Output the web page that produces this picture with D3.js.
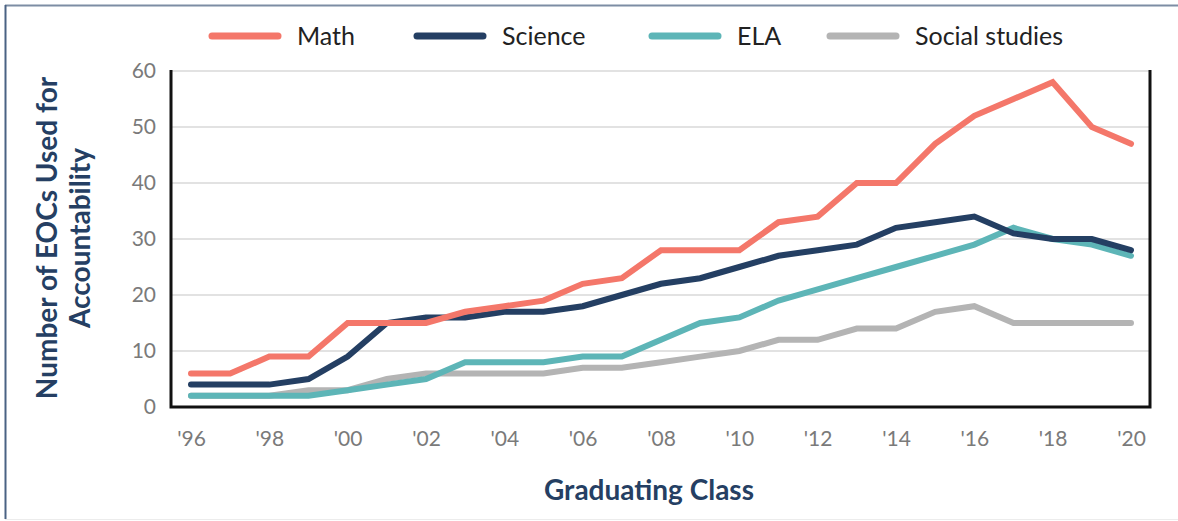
<!DOCTYPE html>
<html><head><meta charset="utf-8">
<script src="https://cdn.jsdelivr.net/npm/d3@7"></script>
<style>
html,body{margin:0;padding:0;background:#fff;}
svg{display:block;}
</style></head>
<body>
<svg id="chart" width="1178" height="521"></svg>
<script>
const years = ["'96","'97","'98","'99","'00","'01","'02","'03","'04","'05","'06","'07","'08","'09","'10","'11","'12","'13","'14","'15","'16","'17","'18","'19","'20"];
const tickLabels = ["'96","'98","'00","'02","'04","'06","'08","'10","'12","'14","'16","'18","'20"];
const yTicks = [0,10,20,30,40,50,60];
const seriesNames = ["Math","Science","ELA","Social studies"];
const mathValues = [6,6,9,9,15,15,15,17,18,19,22,23,28,28,28,33,34,40,40,47,52,55,58,50,47];
const scienceValues = [4,4,4,5,9,15,16,16,17,17,18,20,22,23,25,27,28,29,32,33,34,31,30,30,28];
const elaValues = [2,2,2,2,3,4,5,8,8,8,9,9,12,15,16,19,21,23,25,27,29,32,30,29,27];
const socialValues = [2,2,2,3,3,5,6,6,6,6,7,7,8,9,10,12,12,14,14,17,18,15,15,15,15];
const colors = ["#f4776a","#243f63","#5db5b7","#b4b4b4"];

(function(){
const series = [
  {name: seriesNames[0], values: mathValues, color: colors[0]},
  {name: seriesNames[1], values: scienceValues, color: colors[1]},
  {name: seriesNames[2], values: elaValues, color: colors[2]},
  {name: seriesNames[3], values: socialValues, color: colors[3]}
];

const svg = d3.select("#chart");
const W = 1178, H = 521;
const pL = 171, pR = 1150, pT = 71, pB = 407;

// frame
svg.append("line").attr("x1",5).attr("x2",W).attr("y1",5.5).attr("y2",5.5).attr("stroke","#7d8da4").attr("stroke-width",2);
svg.append("line").attr("x1",5.5).attr("x2",5.5).attr("y1",5).attr("y2",H-2).attr("stroke","#4a6283").attr("stroke-width",2);
svg.append("line").attr("x1",5).attr("x2",W).attr("y1",519.5).attr("y2",519.5).attr("stroke","#ececec").attr("stroke-width",1);

const x = d3.scalePoint().domain(years).range([191, 1131]);
const y = d3.scaleLinear().domain([0,60]).range([pB, pT]);

// gridlines
svg.append("g").selectAll("line").data(yTicks.filter(d=>d>0)).join("line")
  .attr("x1", pL).attr("x2", pR)
  .attr("y1", d=>y(d)).attr("y2", d=>y(d))
  .attr("stroke","#d9d9d9").attr("stroke-width",1.5);

// y axis labels
const yAxis = d3.axisLeft(y).tickValues(yTicks).tickSize(0).tickPadding(15).tickFormat(d3.format("d"));
const gy = svg.append("g").attr("transform",`translate(${pL},0)`).call(yAxis);
gy.select(".domain").remove();
gy.selectAll("text").attr("fill","#7a7a7a").style("font-family","Lato, sans-serif").style("font-size","21px");

// x axis labels
const xAxis = d3.axisBottom(x).tickValues(tickLabels).tickSize(0).tickPadding(24);
const gx = svg.append("g").attr("transform",`translate(0,${pB})`).call(xAxis);
gx.select(".domain").remove();
gx.selectAll("text").attr("fill","#7a7a7a").style("font-family","Lato, sans-serif").style("font-size","21px");

// lines (draw social first, math last)
const line = d3.line().x((d,i)=>x(years[i])).y(d=>y(d));
const drawOrder = [3,2,1,0];
svg.append("g").selectAll("path").data(drawOrder.map(i=>series[i])).join("path")
  .attr("d", d=>line(d.values))
  .attr("fill","none")
  .attr("stroke", d=>d.color)
  .attr("stroke-width",6)
  .attr("stroke-linejoin","miter")
  .attr("stroke-linecap","round");

// plot border (left, bottom, right)
svg.append("path")
  .attr("d", `M${pL},${pT-1}V${pB}H${pR}V${pT-1}`)
  .attr("fill","none").attr("stroke","#111").attr("stroke-width",3);

// legend
const legendX = [212, 417, 652, 830];
const lg = svg.append("g").selectAll("g").data(series).join("g")
  .attr("transform",(d,i)=>`translate(${legendX[i]},36)`);
lg.append("line").attr("x1",0).attr("x2",66).attr("y1",0).attr("y2",0)
  .attr("stroke",d=>d.color).attr("stroke-width",7).attr("stroke-linecap","round");
lg.append("text").attr("x",85).attr("y",0).attr("dy","0.36em")
  .text(d=>d.name).attr("fill","#222")
  .style("font-family","Lato, sans-serif").style("font-size","25px");

// axis titles
svg.append("text").attr("x",649).attr("y",500)
  .attr("text-anchor","middle").attr("fill","#253f63")
  .style("font-family","Lato, sans-serif").style("font-size","28px").style("font-weight","bold")
  .text("Graduating Class");
const yt = svg.append("text").attr("transform","translate(0,238) rotate(-90)")
  .attr("text-anchor","middle").attr("fill","#253f63")
  .style("font-family","Lato, sans-serif").style("font-size","28px").style("font-weight","bold");
yt.append("tspan").attr("x",0).attr("y",57).text("Number of EOCs Used for");
yt.append("tspan").attr("x",0).attr("y",90).text("Accountability");
})();
</script>
</body></html>
